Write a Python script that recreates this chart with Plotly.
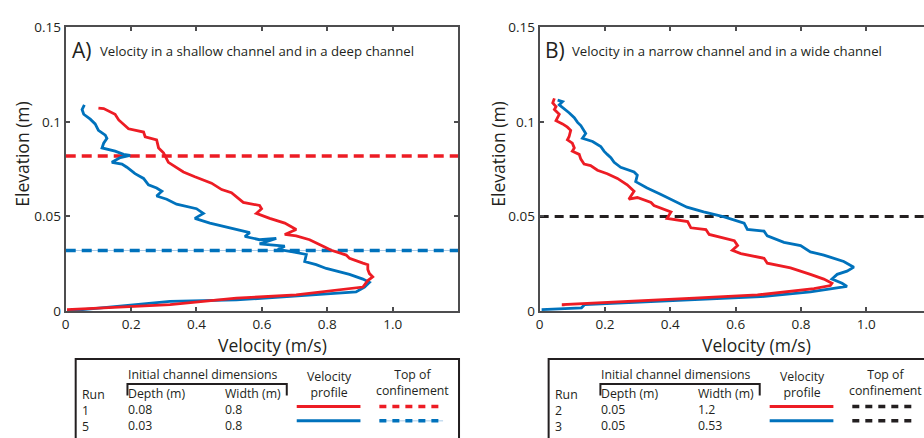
import plotly.graph_objects as go

# ---------------- data ----------------
# Panel A: run 1 (red, depth 0.08) and run 5 (blue, depth 0.03)
vA_run1 = [0.10, 0.116, 0.151, 0.162, 0.192, 0.238, 0.243, 0.278, 0.284, 0.299, 0.314, 0.36, 0.395,
           0.446, 0.477, 0.507, 0.543, 0.593, 0.599, 0.583, 0.624, 0.67, 0.705, 0.67, 0.705, 0.746,
           0.792, 0.812, 0.858, 0.868, 0.909, 0.924, 0.924, 0.929, 0.939, 0.924, 0.909, 0.827, 0.736,
           0.705, 0.522, 0.319, 0.116, 0.004]
eA_run1 = [0.1073, 0.107, 0.104, 0.101, 0.0963, 0.0946, 0.0921, 0.0904, 0.0862, 0.0836, 0.0786, 0.0735,
           0.071, 0.0676, 0.0642, 0.0625, 0.0574, 0.0558, 0.0541, 0.0516, 0.049, 0.0465, 0.0431, 0.0405,
           0.0397, 0.0377, 0.0338, 0.0321, 0.0296, 0.0279, 0.0253, 0.0245, 0.022, 0.0198, 0.0181, 0.0161,
           0.0127, 0.011, 0.0093, 0.0085, 0.0068, 0.0034, 0.0017, 0.0008]
vA_run5 = [0.057, 0.05, 0.055, 0.075, 0.09, 0.10, 0.121, 0.126, 0.116, 0.111, 0.151, 0.177, 0.197, 0.167,
           0.141, 0.172, 0.187, 0.212, 0.238, 0.253, 0.278, 0.294, 0.278, 0.309, 0.339, 0.36, 0.40, 0.421,
           0.395, 0.441, 0.522, 0.563, 0.548, 0.593, 0.644, 0.593, 0.67, 0.649, 0.695, 0.736, 0.731, 0.766,
           0.797, 0.868, 0.909, 0.929, 0.914, 0.888, 0.777, 0.522, 0.319, 0.217, 0.004]
eA_run5 = [0.109, 0.1065, 0.104, 0.1014, 0.0989, 0.0955, 0.093, 0.0913, 0.0887, 0.0862, 0.0845, 0.0828,
           0.0823, 0.0811, 0.0786, 0.0777, 0.076, 0.0726, 0.0701, 0.0667, 0.065, 0.0633, 0.0608, 0.0591,
           0.0565, 0.0558, 0.0541, 0.0516, 0.049, 0.0465, 0.0431, 0.0414, 0.0394, 0.0377, 0.0384, 0.0355,
           0.0343, 0.0326, 0.0313, 0.0299, 0.0262, 0.0245, 0.0225, 0.0194, 0.0169, 0.0152, 0.0127, 0.0101,
           0.0088, 0.0059, 0.0051, 0.0034, 0.0]
conf_A = [0.082, 0.032]          # top of confinement, run 1 / run 5

# Panel B: run 2 (red, width 1.2) and run 3 (blue, width 0.53)
vB_run2 = [0.045, 0.04, 0.05, 0.045, 0.06, 0.05, 0.07, 0.085, 0.095, 0.09, 0.085, 0.10, 0.106, 0.10,
           0.121, 0.126, 0.136, 0.156, 0.177, 0.207, 0.238, 0.268, 0.289, 0.273, 0.299, 0.341, 0.35,
           0.402, 0.39, 0.453, 0.463, 0.509, 0.519, 0.575, 0.596, 0.606, 0.59, 0.616, 0.687, 0.697,
           0.768, 0.829, 0.87, 0.895, 0.89, 0.84, 0.667, 0.473, 0.27, 0.098, 0.072, 0.072]
eB_run2 = [0.1124, 0.11, 0.108, 0.1065, 0.104, 0.1006, 0.0989, 0.0972, 0.0955, 0.0921, 0.0905, 0.0887,
           0.0862, 0.0845, 0.0828, 0.0803, 0.0777, 0.0769, 0.0744, 0.0726, 0.0701, 0.0667, 0.0633,
           0.0591, 0.06, 0.0574, 0.0558, 0.0524, 0.049, 0.0473, 0.044, 0.0431, 0.0405, 0.038, 0.0372,
           0.0346, 0.0321, 0.0304, 0.0279, 0.0253, 0.0228, 0.0194, 0.0169, 0.0147, 0.0135, 0.0118,
           0.0085, 0.0068, 0.0051, 0.0039, 0.0034, 0.0026]
vB_run3 = [0.055, 0.07, 0.06, 0.08, 0.09, 0.106, 0.116, 0.126, 0.141, 0.131, 0.162, 0.187, 0.197, 0.207,
           0.218, 0.228, 0.248, 0.289, 0.299, 0.294, 0.329, 0.37, 0.411, 0.451, 0.502, 0.543, 0.565,
           0.626, 0.636, 0.687, 0.697, 0.748, 0.799, 0.829, 0.87, 0.931, 0.962, 0.941, 0.911, 0.895,
           0.926, 0.941, 0.829, 0.677, 0.473, 0.27, 0.138, 0.128, 0.006]
eB_run3 = [0.1115, 0.1107, 0.109, 0.1065, 0.1048, 0.1022, 0.0997, 0.098, 0.0938, 0.0913, 0.0896, 0.087,
           0.0845, 0.0828, 0.0811, 0.0786, 0.076, 0.0735, 0.0718, 0.0684, 0.065, 0.0617, 0.0583, 0.0549,
           0.0524, 0.0507, 0.0498, 0.0465, 0.0431, 0.0422, 0.0397, 0.0363, 0.0346, 0.0313, 0.0296,
           0.0262, 0.0232, 0.0211, 0.0194, 0.0169, 0.0147, 0.013, 0.0101, 0.0076, 0.0059, 0.0046,
           0.0034, 0.0017, 0.0008]
conf_B = [0.05]

x_ticks = [0, 0.2, 0.4, 0.6, 0.8, 1.0]
x_ticktext = ["0", "0.2", "0.4", "0.6", "0.8", "1.0"]
y_ticks = [0, 0.05, 0.1, 0.15]
y_ticktext = ["0", "0.05", "0.1", "0.15"]

table_A = {"runs": ["1", "5"], "depth": ["0.08", "0.03"], "width": ["0.8", "0.8"]}
table_B = {"runs": ["2", "3"], "depth": ["0.05", "0.05"], "width": ["1.2", "0.53"]}

RED = "#ed1c24"
BLUE = "#0072bc"
LIGHTBLUE = "#a9cbe8"
DARK = "#231f20"
AXIS = "#4d4d4f"
FONT = "Open Sans"

W, H = 924, 438


def px(x):
    return x / W


def py(y):
    return 1 - y / H


fig = go.Figure()

XR_A = [0, 1.2]
XR_B = [0, (W - 538) / 328.0]

# Panel A traces
fig.add_trace(go.Scatter(x=XR_A, y=[conf_A[1]] * 2, mode="lines", xaxis="x", yaxis="y",
                         line=dict(color=LIGHTBLUE, width=1), showlegend=False))
fig.add_trace(go.Scatter(x=XR_A, y=[conf_A[0]] * 2, mode="lines", xaxis="x", yaxis="y",
                         line=dict(color=RED, width=3.5, dash="10px,6px"), showlegend=False))
fig.add_trace(go.Scatter(x=XR_A, y=[conf_A[1]] * 2, mode="lines", xaxis="x", yaxis="y",
                         line=dict(color=BLUE, width=3.5, dash="10px,6px"), showlegend=False))
fig.add_trace(go.Scatter(x=vA_run5, y=eA_run5, mode="lines", xaxis="x", yaxis="y",
                         line=dict(color=BLUE, width=2.8), showlegend=False))
fig.add_trace(go.Scatter(x=vA_run1, y=eA_run1, mode="lines", xaxis="x", yaxis="y",
                         line=dict(color=RED, width=2.8), showlegend=False))

# Panel B traces
fig.add_trace(go.Scatter(x=XR_B, y=[conf_B[0]] * 2, mode="lines", xaxis="x2", yaxis="y2",
                         line=dict(color=DARK, width=3, dash="9px,6px"), showlegend=False))
fig.add_trace(go.Scatter(x=vB_run3, y=eB_run3, mode="lines", xaxis="x2", yaxis="y2",
                         line=dict(color=BLUE, width=2.8), showlegend=False))
fig.add_trace(go.Scatter(x=vB_run2, y=eB_run2, mode="lines", xaxis="x2", yaxis="y2",
                         line=dict(color=RED, width=2.8), showlegend=False))

ydom = [py(315), py(19)]
axis_common = dict(showgrid=False, zeroline=False, ticks="inside", ticklen=4, tickwidth=1.5,
                   tickcolor=AXIS, linecolor=AXIS, linewidth=2, showline=True,
                   tickfont=dict(family=FONT, size=13.5, color=DARK))

fig.update_layout(
    width=W, height=H,
    margin=dict(l=0, r=0, t=0, b=0),
    paper_bgcolor="white", plot_bgcolor="white",
    xaxis=dict(domain=[px(62), px(456)], range=XR_A, tickvals=x_ticks, ticktext=x_ticktext,
               anchor="y", mirror="ticks", **axis_common),
    yaxis=dict(domain=ydom, range=[0, 0.15], tickvals=y_ticks, ticktext=y_ticktext,
               anchor="x", mirror="ticks", **axis_common),
    xaxis2=dict(domain=[px(538), 1], range=XR_B, tickvals=x_ticks, ticktext=x_ticktext,
                anchor="y2", mirror="ticks", **axis_common),
    yaxis2=dict(domain=ydom, range=[0, 0.15], tickvals=y_ticks, ticktext=y_ticktext,
                anchor="x2", mirror=False, **axis_common),
    font=dict(family=FONT, color=DARK),
)

ann = []
shapes = []


def text(x, y, s, size=12, xanchor="left", yanchor="middle", align="left"):
    ann.append(dict(x=px(x), y=py(y), xref="paper", yref="paper", text=s, showarrow=False,
                    xanchor=xanchor, yanchor=yanchor, align=align, borderpad=0,
                    font=dict(family=FONT, size=size, color=DARK)))


# panel titles
text(67, 43, "A)", size=21)
text(95, 44, "Velocity in a shallow channel and in a deep channel", size=13.2)
text(542, 43, "B)", size=21)
text(569, 44, "Velocity in a narrow channel and in a wide channel", size=13.2)

# axis titles
for cx, cy in [(18, 151), (496, 151)]:
    ann.append(dict(x=px(cx), y=py(cy), xref="paper", yref="paper", text="Elevation (m)",
                    showarrow=False, textangle=-90, xanchor="center", yanchor="middle", borderpad=0,
                    font=dict(family=FONT, size=17.5, color=DARK)))
text(270, 350, "Velocity (m/s)", size=17.5, xanchor="center", align="center")
text(756, 350, "Velocity (m/s)", size=17.5, xanchor="center", align="center")

TS = 12.3


def table(x0, tab, solid_lines, dash_colors, dash_under):
    # frame
    shapes.append(dict(type="rect", xref="paper", yref="paper", x0=px(x0), x1=px(x0 + 385),
                       y0=py(460), y1=py(365), line=dict(color=DARK, width=2)))
    # bracket under header
    bx0, bx1 = x0 + 52, x0 + 212
    shapes.append(dict(type="path", xref="paper", yref="paper",
                       path=f"M {px(bx0)},{py(403)} L {px(bx0)},{py(391)} L {px(bx1)},{py(391)} L {px(bx1)},{py(403)}",
                       line=dict(color=DARK, width=2)))
    text(x0 + 52, 381, "Initial channel dimensions", size=TS)
    # columns (header + two rows in one text block each)
    top = 392
    text(x0 + 5, top, "<br>".join(["Run"] + tab["runs"]), size=TS, yanchor="top")
    text(x0 + 52, top - 1, "<br>".join(["Depth (m)"] + tab["depth"]), size=TS, yanchor="top")
    text(x0 + 149, top - 1, "<br>".join(["Width (m)"] + tab["width"]), size=TS, yanchor="top")
    text(x0 + 255, 391.5, "Velocity<br>profile", size=TS, xanchor="center", align="center")
    text(x0 + 338, 389, "Top of<br>confinement", size=TS, xanchor="center", align="center")
    rows_y = [416, 431]
    for i, ry in enumerate(rows_y):
        ly = ry - 1.5
        shapes.append(dict(type="line", xref="paper", yref="paper", x0=px(x0 + 222), x1=px(x0 + 286),
                           y0=py(ly), y1=py(ly), line=dict(color=solid_lines[i], width=3)))
        if dash_under[i]:
            shapes.append(dict(type="line", xref="paper", yref="paper", x0=px(x0 + 305), x1=px(x0 + 369),
                               y0=py(ly), y1=py(ly), line=dict(color=LIGHTBLUE, width=1)))
        shapes.append(dict(type="line", xref="paper", yref="paper", x0=px(x0 + 305), x1=px(x0 + 369),
                           y0=py(ly), y1=py(ly), line=dict(color=dash_colors[i], width=3.5, dash="7px,6px")))


table(72, table_A, [RED, BLUE], [RED, BLUE], [False, True])
table(547, table_B, [RED, BLUE], [DARK, DARK], [False, False])

fig.update_layout(annotations=ann, shapes=shapes)
fig.write_html("out.html")
